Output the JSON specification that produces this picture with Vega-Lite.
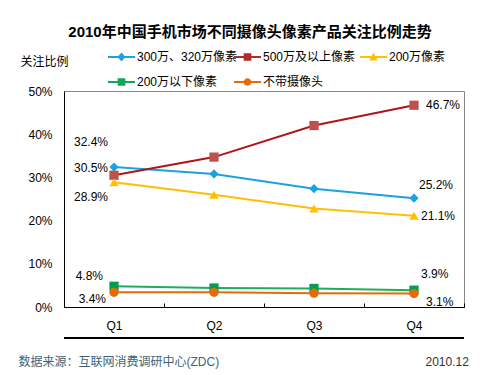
{
  "$schema": "https://vega.github.io/schema/vega-lite/v6.json",
  "width": 400,
  "height": 216,
  "autosize": "none",
  "padding": {"left": 64, "top": 91, "right": 36, "bottom": 68},
  "background": "white",
  "config": {
    "font": "Liberation Sans, Noto Sans CJK SC",
    "view": {"stroke": "#888888", "strokeWidth": 1}
  },
  "title": {
    "text": "2010年中国手机市场不同摄像头像素产品关注比例走势",
    "fontSize": 15,
    "fontWeight": "bold",
    "color": "#000000",
    "anchor": "middle",
    "frame": "group",
    "dx": -14,
    "offset": 10
  },
  "datasets": {
    "d": [
      {"series": "300万、320万像素", "quarter": "Q1", "value": 0.324},
      {"series": "300万、320万像素", "quarter": "Q2", "value": 0.308},
      {"series": "300万、320万像素", "quarter": "Q3", "value": 0.274},
      {"series": "300万、320万像素", "quarter": "Q4", "value": 0.252},
      {"series": "500万及以上像素", "quarter": "Q1", "value": 0.305},
      {"series": "500万及以上像素", "quarter": "Q2", "value": 0.347},
      {"series": "500万及以上像素", "quarter": "Q3", "value": 0.420},
      {"series": "500万及以上像素", "quarter": "Q4", "value": 0.467},
      {"series": "200万像素", "quarter": "Q1", "value": 0.289},
      {"series": "200万像素", "quarter": "Q2", "value": 0.260},
      {"series": "200万像素", "quarter": "Q3", "value": 0.228},
      {"series": "200万像素", "quarter": "Q4", "value": 0.211},
      {"series": "200万以下像素", "quarter": "Q1", "value": 0.048},
      {"series": "200万以下像素", "quarter": "Q2", "value": 0.044},
      {"series": "200万以下像素", "quarter": "Q3", "value": 0.043},
      {"series": "200万以下像素", "quarter": "Q4", "value": 0.039},
      {"series": "不带摄像头", "quarter": "Q1", "value": 0.034},
      {"series": "不带摄像头", "quarter": "Q2", "value": 0.034},
      {"series": "不带摄像头", "quarter": "Q3", "value": 0.032},
      {"series": "不带摄像头", "quarter": "Q4", "value": 0.031}
    ]
  },
  "data": {"name": "d"},
  "layer": [
    {
      "mark": {"type": "rule", "color": "#000000", "strokeWidth": 1, "clip": false},
      "encoding": {
        "y": {"datum": -0.072, "type": "quantitative", "scale": {"domain": [0, 0.5], "clamp": false}, "axis": null}
      }
    },
    {
      "mark": {"type": "line", "strokeWidth": 2},
      "encoding": {
        "x": {
          "field": "quarter", "type": "nominal",
          "scale": {"type": "band", "paddingInner": 0, "paddingOuter": 0},
          "axis": {
            "title": "数据来源：互联网消费调研中心(ZDC)",
            "titleX": -46, "titleY": 54, "titleAlign": "left", "titleBaseline": "middle",
            "titleFontSize": 12, "titleFontWeight": "normal", "titleColor": "#3d6377",
            "labelAngle": 0, "labelFontSize": 12, "labelColor": "#000000", "labelPadding": 17,
            "tickBand": "extent", "tickSize": -4, "tickColor": "#000000",
            "domainColor": "#000000", "grid": false
          }
        },
        "y": {
          "field": "value", "type": "quantitative",
          "scale": {"domain": [0, 0.5]},
          "axis": {
            "title": "关注比例", "titleAngle": 0, "titleX": -44, "titleY": -30,
            "titleAlign": "left", "titleBaseline": "middle", "titleFontSize": 12,
            "titleFontWeight": "normal", "titleColor": "#000000",
            "format": ".0%", "values": [0, 0.1, 0.2, 0.3, 0.4, 0.5],
            "ticks": false, "labelPadding": 12, "labelFontSize": 12, "labelColor": "#000000",
            "domainColor": "#000000", "gridColor": "#a0a0a0", "gridDash": [2, 2]
          }
        },
        "color": {
          "field": "series", "type": "nominal", "legend": null,
          "scale": {
            "domain": ["300万、320万像素", "500万及以上像素", "200万像素", "200万以下像素", "不带摄像头"],
            "range": ["#1ca1e2", "#b0141a", "#ffc000", "#1fae5e", "#e36c09"]
          }
        }
      }
    },
    {
      "mark": {"type": "point", "filled": true, "opacity": 1, "size": 85, "strokeWidth": 0},
      "encoding": {
        "x": {"field": "quarter", "type": "nominal"},
        "y": {"field": "value", "type": "quantitative", "scale": {"domain": [0, 0.5]}, "axis": null},
        "fill": {
          "field": "series", "type": "nominal", "legend": null,
          "scale": {
            "domain": ["300万、320万像素", "500万及以上像素", "200万像素", "200万以下像素", "不带摄像头"],
            "range": ["#1ca1e2", "#c0504d", "#ffc000", "#00a050", "#e36c09"]
          }
        },
        "shape": {
          "field": "series", "type": "nominal", "legend": null,
          "scale": {
            "domain": ["300万、320万像素", "500万及以上像素", "200万像素", "200万以下像素", "不带摄像头"],
            "range": ["diamond", "square", "triangle-up", "square", "circle"]
          }
        }
      }
    },
    {
      "transform": [{"filter": "datum.series == '300万、320万像素' && datum.quarter == 'Q1'"}],
      "mark": {"type": "text", "align": "right", "baseline": "middle", "dx": -6, "dy": -25, "fontSize": 12, "color": "#000000"},
      "encoding": {"x": {"field": "quarter", "type": "nominal"}, "y": {"field": "value", "type": "quantitative", "scale": {"domain": [0, 0.5]}, "axis": null}, "text": {"field": "value", "format": ".1%"}}
    },
    {
      "transform": [{"filter": "datum.series == '500万及以上像素' && datum.quarter == 'Q1'"}],
      "mark": {"type": "text", "align": "right", "baseline": "middle", "dx": -6, "dy": -7, "fontSize": 12, "color": "#000000"},
      "encoding": {"x": {"field": "quarter", "type": "nominal"}, "y": {"field": "value", "type": "quantitative", "scale": {"domain": [0, 0.5]}, "axis": null}, "text": {"field": "value", "format": ".1%"}}
    },
    {
      "transform": [{"filter": "datum.series == '200万像素' && datum.quarter == 'Q1'"}],
      "mark": {"type": "text", "align": "right", "baseline": "middle", "dx": -6, "dy": 15, "fontSize": 12, "color": "#000000"},
      "encoding": {"x": {"field": "quarter", "type": "nominal"}, "y": {"field": "value", "type": "quantitative", "scale": {"domain": [0, 0.5]}, "axis": null}, "text": {"field": "value", "format": ".1%"}}
    },
    {
      "transform": [{"filter": "datum.series == '200万以下像素' && datum.quarter == 'Q1'"}],
      "mark": {"type": "text", "align": "right", "baseline": "middle", "dx": -11, "dy": -10, "fontSize": 12, "color": "#000000"},
      "encoding": {"x": {"field": "quarter", "type": "nominal"}, "y": {"field": "value", "type": "quantitative", "scale": {"domain": [0, 0.5]}, "axis": null}, "text": {"field": "value", "format": ".1%"}}
    },
    {
      "transform": [{"filter": "datum.series == '不带摄像头' && datum.quarter == 'Q1'"}],
      "mark": {"type": "text", "align": "right", "baseline": "middle", "dx": -8, "dy": 7, "fontSize": 12, "color": "#000000"},
      "encoding": {"x": {"field": "quarter", "type": "nominal"}, "y": {"field": "value", "type": "quantitative", "scale": {"domain": [0, 0.5]}, "axis": null}, "text": {"field": "value", "format": ".1%"}}
    },
    {
      "transform": [{"filter": "datum.series == '500万及以上像素' && datum.quarter == 'Q4'"}],
      "mark": {"type": "text", "align": "left", "baseline": "middle", "dx": 12, "dy": 0, "fontSize": 12, "color": "#000000"},
      "encoding": {"x": {"field": "quarter", "type": "nominal"}, "y": {"field": "value", "type": "quantitative", "scale": {"domain": [0, 0.5]}, "axis": null}, "text": {"field": "value", "format": ".1%"}}
    },
    {
      "transform": [{"filter": "datum.series == '300万、320万像素' && datum.quarter == 'Q4'"}],
      "mark": {"type": "text", "align": "left", "baseline": "middle", "dx": 5, "dy": -13, "fontSize": 12, "color": "#000000"},
      "encoding": {"x": {"field": "quarter", "type": "nominal"}, "y": {"field": "value", "type": "quantitative", "scale": {"domain": [0, 0.5]}, "axis": null}, "text": {"field": "value", "format": ".1%"}}
    },
    {
      "transform": [{"filter": "datum.series == '200万像素' && datum.quarter == 'Q4'"}],
      "mark": {"type": "text", "align": "left", "baseline": "middle", "dx": 7, "dy": 0, "fontSize": 12, "color": "#000000"},
      "encoding": {"x": {"field": "quarter", "type": "nominal"}, "y": {"field": "value", "type": "quantitative", "scale": {"domain": [0, 0.5]}, "axis": null}, "text": {"field": "value", "format": ".1%"}}
    },
    {
      "transform": [{"filter": "datum.series == '200万以下像素' && datum.quarter == 'Q4'"}],
      "mark": {"type": "text", "align": "left", "baseline": "middle", "dx": 7, "dy": -16, "fontSize": 12, "color": "#000000"},
      "encoding": {"x": {"field": "quarter", "type": "nominal"}, "y": {"field": "value", "type": "quantitative", "scale": {"domain": [0, 0.5]}, "axis": null}, "text": {"field": "value", "format": ".1%"}}
    },
    {
      "transform": [{"filter": "datum.series == '不带摄像头' && datum.quarter == 'Q4'"}],
      "mark": {"type": "text", "align": "left", "baseline": "middle", "dx": 12, "dy": 8, "fontSize": 12, "color": "#000000"},
      "encoding": {"x": {"field": "quarter", "type": "nominal"}, "y": {"field": "value", "type": "quantitative", "scale": {"domain": [0, 0.5]}, "axis": null}, "text": {"field": "value", "format": ".1%"}}
    },
    {
      "transform": [{"filter": "false"}],
      "mark": {"type": "point", "filled": true, "opacity": 1, "strokeWidth": 0},
      "encoding": {
        "y": {
          "field": "value", "type": "quantitative", "scale": {"domain": [0, 0.5]},
          "axis": {
            "orient": "right", "title": "2010.12", "titleAngle": 0, "titleX": -39, "titleY": 270,
            "titleAlign": "left", "titleBaseline": "middle", "labels": false, "ticks": false,
            "domain": false, "grid": false, "titleFontSize": 12, "titleFontWeight": "normal", "titleColor": "#333333"
          }
        },
        "fill": {
          "field": "series", "type": "nominal",
          "scale": {
            "domain": ["300万、320万像素", "500万及以上像素", "200万像素", "200万以下像素", "不带摄像头"],
            "range": ["#1ca1e2", "#b8282a", "#ffc000", "#12a658", "#e36c09"]
          },
          "legend": {"title": null}
        },
        "shape": {
          "field": "series", "type": "nominal",
          "scale": {
            "domain": ["300万、320万像素", "500万及以上像素", "200万像素", "200万以下像素", "不带摄像头"],
            "range": [
              "M-1.93,-0.14L1.93,-0.14L1.93,0.14L-1.93,0.14Z M0,-0.64L0.57,0L0,0.64L-0.57,0Z",
              "M-1.93,-0.14L1.93,-0.14L1.93,0.14L-1.93,0.14Z M-0.55,-0.55L0.55,-0.55L0.55,0.55L-0.55,0.55Z",
              "M-1.93,-0.14L1.93,-0.14L1.93,0.14L-1.93,0.14Z M0,-0.6L0.62,0.5L-0.62,0.5Z",
              "M-1.93,-0.14L1.93,-0.14L1.93,0.14L-1.93,0.14Z M-0.55,-0.55L0.55,-0.55L0.55,0.55L-0.55,0.55Z",
              "M-1.93,-0.14L1.93,-0.14L1.93,0.14L-1.93,0.14Z M-0.55,0A0.55,0.55 0 1,1 0.55,0A0.55,0.55 0 1,1 -0.55,0Z"
            ]
          },
          "legend": {
            "title": null, "orient": "none", "direction": "horizontal", "legendX": 50.5, "legendY": -41,
            "columns": 3, "gridAlign": "all", "columnPadding": -4, "rowPadding": 12,
            "symbolSize": 196, "labelOffset": 8.5, "labelFontSize": 12, "labelColor": "#000000",
            "padding": 0, "symbolStrokeWidth": 0
          }
        }
      }
    }
  ],
  "resolve": {"scale": {"shape": "independent", "fill": "independent"}, "axis": {"y": "independent"}}
}
